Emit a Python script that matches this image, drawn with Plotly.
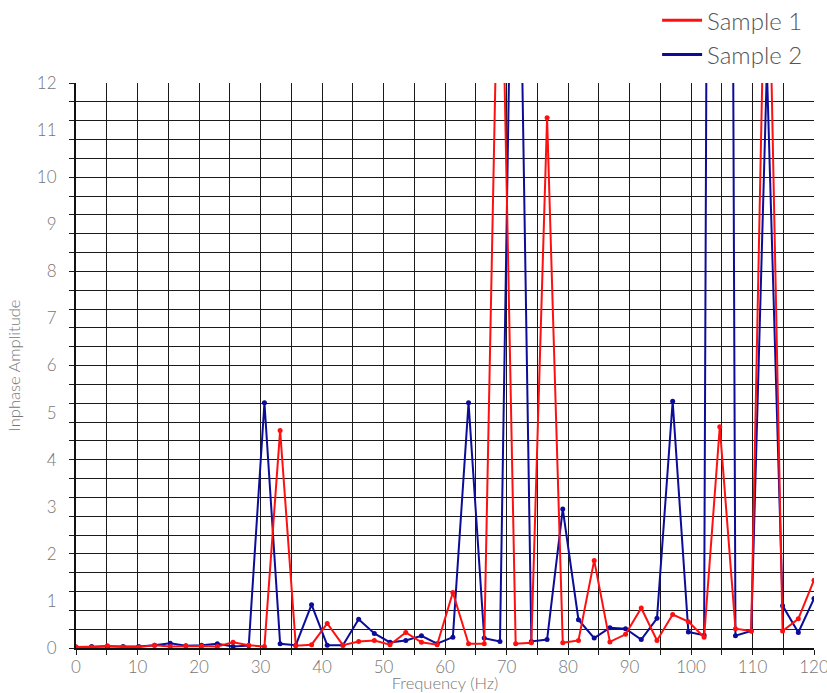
import plotly.graph_objects as go

freq_hz = [0.00, 2.55, 5.11, 7.66, 10.21, 12.77, 15.32, 17.87, 20.43, 22.98,
           25.53, 28.09, 30.64, 33.19, 35.74, 38.30, 40.85, 43.40, 45.96, 48.51,
           51.06, 53.62, 56.17, 58.72, 61.28, 63.83, 66.38, 68.94, 71.49, 74.04,
           76.60, 79.15, 81.70, 84.26, 86.81, 89.36, 91.91, 94.47, 97.02, 99.57,
           102.13, 104.68, 107.23, 109.79, 112.34, 114.89, 117.45, 120.00]

sample1 = [0.02, 0.02, 0.05, 0.02, 0.02, 0.06, 0.03, 0.04, 0.04, 0.03,
           0.12, 0.06, 0.03, 4.62, 0.05, 0.07, 0.52, 0.06, 0.14, 0.16,
           0.07, 0.33, 0.12, 0.07, 1.18, 0.09, 0.09, 17.0, 0.09, 0.11,
           11.26, 0.11, 0.16, 1.86, 0.13, 0.29, 0.85, 0.16, 0.71, 0.56,
           0.23, 4.70, 0.41, 0.36, 17.0, 0.36, 0.62, 1.44]

sample2 = [0.02, 0.03, 0.03, 0.03, 0.03, 0.06, 0.10, 0.05, 0.06, 0.09,
           0.03, 0.05, 5.21, 0.09, 0.06, 0.92, 0.06, 0.06, 0.61, 0.31,
           0.12, 0.16, 0.26, 0.09, 0.23, 5.21, 0.21, 0.14, 21.0, 0.14,
           0.18, 2.95, 0.60, 0.21, 0.43, 0.41, 0.18, 0.63, 5.24, 0.34,
           0.27, 84.0, 0.26, 0.36, 12.3, 0.90, 0.33, 1.05]

series_names = ["Sample 1", "Sample 2"]
series_colors = ["#ff1010", "#0c0c9a"]

x_ticks = [0, 10, 20, 30, 40, 50, 60, 70, 80, 90, 100, 110, 120]
y_ticks = [0, 1, 2, 3, 4, 5, 6, 7, 8, 9, 10, 11, 12]

FONT = "Lato"
TXT = "#767676"
GRID = "#1a1a1a"

fig = go.Figure()
# blue drawn first so red sits on top
for name, vals, col in [(series_names[1], sample2, series_colors[1]),
                        (series_names[0], sample1, series_colors[0])]:
    fig.add_trace(go.Scatter(
        x=freq_hz, y=vals, name=name, mode="lines+markers",
        line=dict(color=col, width=2),
        marker=dict(color=col, size=5),
        cliponaxis=True, showlegend=False,
    ))
# legend entries (line only)
for name, col in zip(series_names, series_colors):
    fig.add_trace(go.Scatter(
        x=[None], y=[None], name=name, mode="lines",
        line=dict(color=col, width=3), showlegend=True,
    ))

fig.update_layout(
    template="none",
    width=827, height=693,
    margin=dict(l=76, r=13, t=83, b=45, autoexpand=False),
    paper_bgcolor="white", plot_bgcolor="white",
    font=dict(family=FONT, color=TXT, weight=300),
    showlegend=True,
    legend=dict(
        x=0.992, xanchor="right", y=1.15, yanchor="top",
        font=dict(size=24, color="#555555", family=FONT, weight=300),
        bgcolor="rgba(0,0,0,0)", itemwidth=40, tracegroupgap=0,
    ),
)

fig.update_xaxes(
    range=[0, 120], tickvals=x_ticks, ticktext=[str(v) for v in x_ticks],
    showgrid=True, gridcolor=GRID, gridwidth=1,
    ticks="outside", ticklen=5, tickcolor=GRID,
    minor=dict(dtick=5, tick0=0, showgrid=True, gridcolor=GRID,
               gridwidth=1, ticks="outside", ticklen=5, tickcolor=GRID),
    showline=True, linecolor="#111111", linewidth=2,
    zeroline=False, automargin=False,
    ticklabeloverflow="allow", ticklabelstandoff=-2,
    tickfont=dict(size=17, color=TXT),
    title=dict(text="Frequency (Hz)", font=dict(size=16.5, color=TXT), standoff=0),
)

fig.update_yaxes(
    range=[0, 12], tickvals=y_ticks, ticktext=[str(v) for v in y_ticks],
    showgrid=False, ticks="",
    minor=dict(dtick=0.4, tick0=0, showgrid=True, gridcolor=GRID,
               gridwidth=1, ticks="outside", ticklen=5, tickcolor=GRID),
    showline=True, linecolor="#111111", linewidth=2,
    zeroline=False, automargin=False,
    ticklabelstandoff=14,
    tickfont=dict(size=17, color=TXT),
    title=dict(text="Inphase Amplitude", font=dict(size=16.5, color=TXT), standoff=12),
)

fig.write_html("out.html")
